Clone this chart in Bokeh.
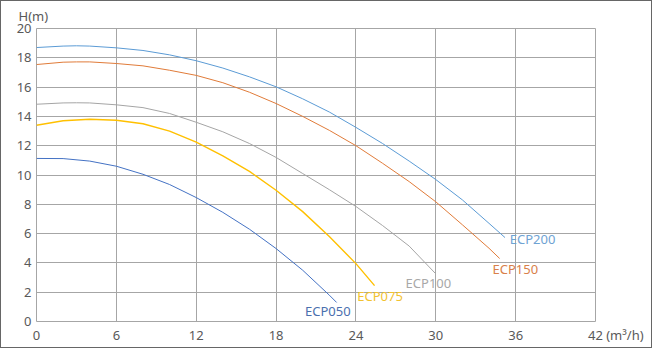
from bokeh.plotting import figure
from bokeh.models import Range1d, FixedTicker, ColumnDataSource
from bokeh.core.properties import value
from bokeh.embed import file_html
from bokeh.resources import INLINE

# ---- data ----
x_ticks = [0, 6, 12, 18, 24, 30, 36, 42]
x_tick_labels = ["0", "6", "12", "18", "24", "30", "36", "42 (m³/h)"]
y_ticks = [0, 2, 4, 6, 8, 10, 12, 14, 16, 18, 20]
y_title = "H(m)"

ecp200_q = [0, 2, 3, 4, 6, 8, 10, 12, 14, 16, 18, 20, 22, 24, 26, 28, 30, 32, 34, 35.2]
ecp200_h = [18.70, 18.80, 18.82, 18.80, 18.68, 18.5, 18.2, 17.8, 17.3, 16.7, 16.02, 15.2, 14.3, 13.25, 12.15, 10.95, 9.69, 8.3, 6.7, 5.73]

ecp150_q = [0, 2, 3, 4, 6, 8, 10, 12, 14, 16, 18, 20, 22, 24, 26, 28, 30, 32, 34, 34.8]
ecp150_h = [17.54, 17.70, 17.72, 17.72, 17.61, 17.45, 17.15, 16.8, 16.3, 15.65, 14.88, 14.0, 13.05, 12.0, 10.8, 9.55, 8.17, 6.6, 5.0, 4.3]

ecp100_q = [0, 2, 3, 4, 6, 8, 10, 12, 14, 16, 18, 20, 22, 24, 26, 28, 29.95]
ecp100_h = [14.83, 14.92, 14.93, 14.92, 14.79, 14.6, 14.2, 13.6, 12.95, 12.15, 11.2, 10.1, 9.0, 7.85, 6.55, 5.15, 3.3]

ecp075_q = [0, 2, 4, 6, 8, 10, 12, 14, 16, 18, 20, 22, 24, 25.4]
ecp075_h = [13.40, 13.70, 13.81, 13.74, 13.5, 13.0, 12.25, 11.3, 10.25, 8.96, 7.5, 5.8, 3.95, 2.45]

ecp050_q = [0, 2, 4, 6, 8, 10, 12, 14, 16, 18, 20, 22, 22.55]
ecp050_h = [11.13, 11.12, 10.95, 10.6, 10.05, 9.35, 8.46, 7.45, 6.3, 4.98, 3.5, 1.8, 1.3]

names = ["ECP200", "ECP150", "ECP100", "ECP075", "ECP050"]
series_q = [ecp200_q, ecp150_q, ecp100_q, ecp075_q, ecp050_q]
series_h = [ecp200_h, ecp150_h, ecp100_h, ecp075_h, ecp050_h]

# styling / label placement
colors = ["#5B9BD5", "#E07B39", "#A5A5A5", "#FFC000", "#4472C4"]
label_colors = ["#6FA3D3", "#D9804A", "#A8A8A8", "#F2C230", "#4A6FAE"]
widths = [1, 1, 1, 1.4, 1]
label_x = [35.56, 34.26, 27.73, 24.10, 20.17]
label_y = [5.60, 3.60, 2.63, 1.75, 0.70]

FONT = "Noto Sans"
GRID = "#A6A6A6"
TXT = "#595959"

p = figure(width=652, height=348, output_backend="svg", toolbar_location=None,
           x_range=Range1d(0, 42), y_range=Range1d(0, 20),
           min_border_left=35, min_border_right=58, min_border_top=27, min_border_bottom=28)
p.styles = {"border": "1.5px solid #666666", "box-sizing": "border-box"}

# "H(m)" as a left-aligned title above the frame
p.title.text = y_title
p.title.align = "left"
p.title.offset = -18
p.title.text_font = FONT
p.title.text_font_size = "13px"
p.title.text_font_style = "normal"
p.title.text_color = TXT
p.title.standoff = 7

p.outline_line_color = GRID
p.outline_line_width = 1
p.xgrid.ticker = FixedTicker(ticks=x_ticks)
p.ygrid.ticker = FixedTicker(ticks=y_ticks)
p.grid.grid_line_color = GRID
p.grid.grid_line_width = 1

p.xaxis.ticker = FixedTicker(ticks=x_ticks)
p.yaxis.ticker = FixedTicker(ticks=y_ticks)
pad = "\u00a0" * 12
overrides = {}
for t, lab in zip(x_ticks, x_tick_labels):
    overrides[t] = (pad + lab) if " " in lab else lab
p.xaxis.major_label_overrides = overrides

for ax in (p.xaxis[0], p.yaxis[0]):
    ax.axis_line_color = None
    ax.major_tick_line_color = None
    ax.minor_tick_line_color = None
    ax.major_tick_out = 0
    ax.major_tick_in = 0
    ax.minor_tick_out = 0
    ax.minor_tick_in = 0
    ax.major_label_text_font = FONT
    ax.major_label_text_font_size = "13px"
    ax.major_label_text_color = TXT
p.xaxis.major_label_standoff = 4
p.yaxis.major_label_standoff = 5

for q, h, c, w in zip(series_q, series_h, colors, widths):
    p.line(q, h, line_color=c, line_width=w)

src = ColumnDataSource(dict(x=label_x, y=label_y, t=names, c=label_colors))
p.text(x="x", y="y", text="t", text_color="c", source=src,
       text_font=value(FONT), text_font_size="13px",
       text_align="left", text_baseline="middle")

open("out.html", "w").write(file_html(p, INLINE))
